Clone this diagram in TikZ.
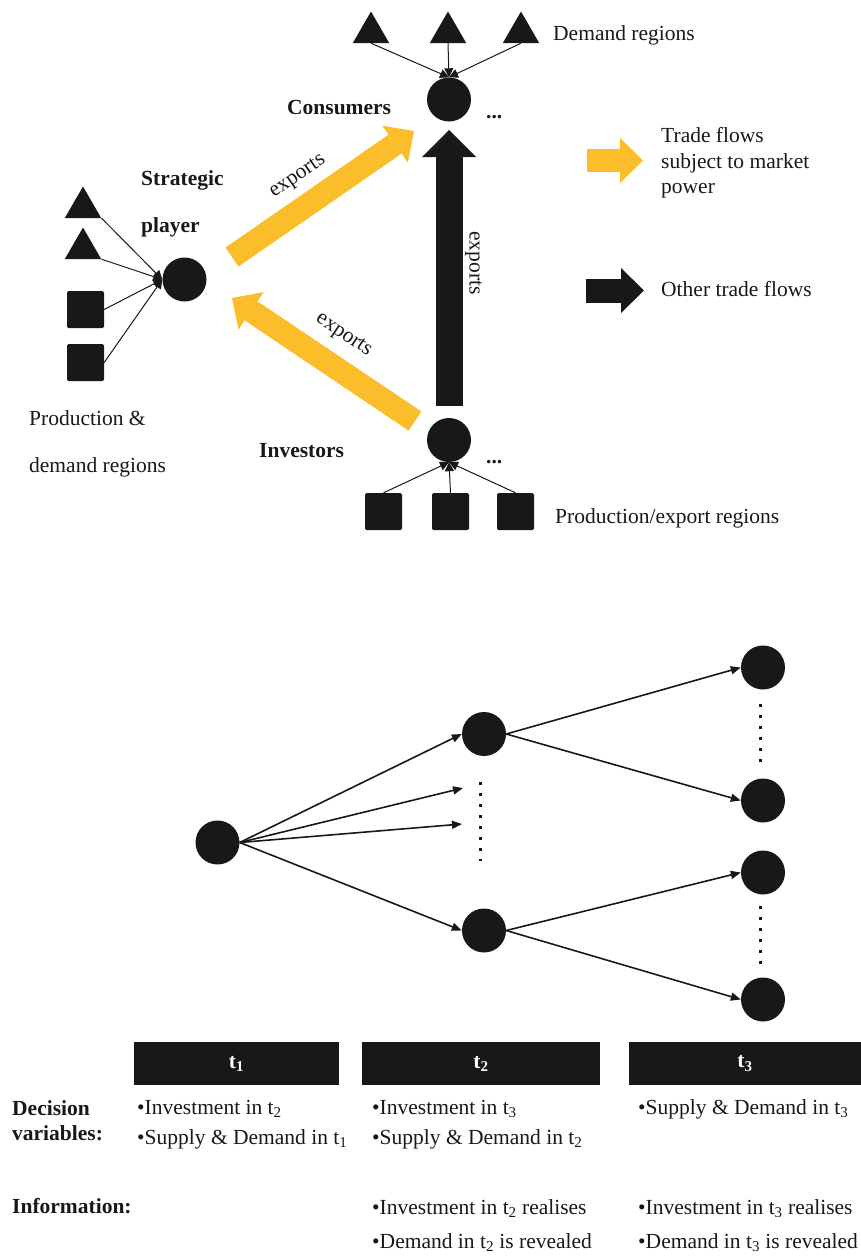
\documentclass[tikz,border=0pt]{standalone}
\usepackage{fontspec}
\setmainfont{Liberation Serif}
\usetikzlibrary{arrows.meta,shapes.geometric}
\definecolor{ink}{RGB}{23,25,23}
\definecolor{mpyellow}{RGB}{251,190,42}

\begin{document}
\begin{tikzpicture}[
    x=1pt, y=-1pt,
    font=\fontsize{21.5}{26}\selectfont,
    text=ink,
    market/.style={
        circle,
        fill=ink,
        minimum size=44pt,
        inner sep=0pt
    },
    demreg/.style={regular polygon, regular polygon sides=3, fill=ink, minimum size=42pt, inner sep=0pt},
    prodreg/.style={rectangle, fill=ink, rounded corners=1.5pt, minimum size=37pt, inner sep=0pt},
    feed/.style={draw=ink, line width=1pt, -{Triangle[length=9pt,width=9pt]}},
    fatflow/.style={line width=23pt, -{Triangle[length=23pt,width=45pt,line width=0pt]}},
    flowlab/.style={inner sep=0pt, text=ink},
    branch/.style={draw=ink, line width=1.6pt, -{Triangle[length=10pt,width=8pt]}},
    gap/.style={draw=ink, line width=3pt, dash pattern=on 3pt off 8pt},
    phase/.style={fill=ink, text=white, font=\fontsize{21.5}{26}\selectfont\bfseries, minimum height=43pt, inner sep=0pt},
    txt/.style={anchor=base west, inner sep=0pt},
    bold/.style={font=\fontsize{21.5}{26}\selectfont\bfseries}
]
\useasboundingbox (0,0) rectangle (861,1256);

% Market structure
\node[market] (cons) at (449,99.5) {};
\node[market] (inv) at (449,440) {};
\node[market] (strat) at (184.5,279.5) {};

\foreach \n/\x in {d1/371, d2/448, d3/521}{
    \node[demreg] (\n) at (\x,32.5) {};
    \draw[feed] (\n.side 2) -- (cons.north);
}
\foreach \n/\x in {b1/383.5, b2/450.5, b3/515.5}{
    \node[prodreg] (\n) at (\x,511.5) {};
    \draw[feed] (\n.north) -- (inv.south);
}
\node[demreg] (l1) at (83,207.5) {};
\node[demreg] (l2) at (83,248.5) {};
\node[prodreg] (s1) at (85.5,309.5) {};
\node[prodreg] (s2) at (85.5,362.5) {};
\draw[feed] (l1.corner 3) -- (strat.west);
\draw[feed] (l2.corner 3) -- (strat.west);
\draw[feed] (s1.east) -- (strat.west);
\draw[feed] (s2.east) -- (strat.west);

\draw[fatflow, mpyellow, shorten <=57.8pt, shorten >=42.6pt]
    ([yshift=-10.4pt]strat.center) -- node[flowlab, pos=0.49, sloped, above=8.5pt] (exp1) {exports}
    ([yshift=-7.3pt]cons.center);
\draw[fatflow, mpyellow, shorten <=41pt, shorten >=57.2pt]
    ([yshift=-3.9pt]inv.center) -- node[flowlab, pos=0.465, sloped, above=11.5pt] (exp2) {exports}
    ([yshift=13.4pt]strat.center);
\draw[fatflow, ink, line width=27pt, -{Triangle[length=27pt,width=54pt,line width=0pt]},
    shorten <=34.5pt, shorten >=30.5pt]
    (inv.center) -- node[flowlab, pos=0.52, xshift=24.5pt, rotate=-90] (exp3) {exports}
    (cons.center);

\node[txt] (demlab) at (553,40) {Demand regions};
\node[txt, bold] (conslab) at (287,114) {Consumers};
\node[txt] (consdots) at (486,118) {\textbf{...}};
\node[txt, bold] (invlab) at (259,457) {Investors};
\node[txt] (invdots) at (486,463) {\textbf{...}};
\node[txt] (prodlab) at (555,523) {Production/export regions};
\node[anchor=north west, inner sep=0pt, align=left, font=\fontsize{21.5}{47}\selectfont\bfseries]
    (stratlab) at (141,170.4) {Strategic\\player};
\node[anchor=north west, inner sep=0pt, align=left, font=\fontsize{21.5}{47}\selectfont]
    (pdlab) at (29,410.3) {Production \&\\demand regions};

% Legend
\coordinate (ly0) at (587,160.5);
\coordinate (ly1) at (643,160.5);
\coordinate (lk0) at (586,290.5);
\coordinate (lk1) at (644,290.5);
\draw[fatflow, mpyellow] (ly0) -- (ly1);
\draw[fatflow, ink, line width=24pt] (lk0) -- (lk1);
\node[anchor=north west, inner sep=0pt, align=left, font=\fontsize{21.5}{25.7}\selectfont]
    (legylab) at (661,127) {Trade flows\\subject to market\\power};
\node[txt] (legklab) at (661,296) {Other trade flows};

% Scenario tree
\node[market] (root) at (217.5,842.5) {};
\node[market] (m1) at (484,734) {};
\node[market] (m2) at (484,930.5) {};
\node[market] (r1) at (763,667.5) {};
\node[market] (r2) at (763,800.5) {};
\node[market] (r3) at (763,872.5) {};
\node[market] (r4) at (763,999.5) {};
\coordinate (e1) at (463,788);
\coordinate (e2) at (462,824);

\draw[branch] (root.east) -- (m1.west);
\draw[branch] (root.east) -- (e1);
\draw[branch] (root.east) -- (e2);
\draw[branch] (root.east) -- (m2.west);
\draw[branch] (m1.east) -- (r1.west);
\draw[branch] (m1.east) -- (r2.west);
\draw[branch] (m2.east) -- (r3.west);
\draw[branch] (m2.east) -- (r4.west);

\draw[gap, shorten <=26pt, shorten >=47pt] ([xshift=-4pt]m1.south) -- ([xshift=-4pt]m2.north);
\draw[gap, shorten <=14pt, shorten >=15pt] ([xshift=-3pt]r1.south) -- ([xshift=-3pt]r2.north);
\draw[gap, shorten <=11pt, shorten >=13pt] ([xshift=-3pt]r3.south) -- ([xshift=-3pt]r4.north);

% Stages
\node[phase, minimum width=205pt] (t1) at (236.5,1063.5) {t\textsubscript{1}};
\node[phase, minimum width=238pt] (t2) at (481,1063.5) {t\textsubscript{2}};
\node[phase, minimum width=232pt] (t3) at (745,1063.5) {t\textsubscript{3}};

\node[anchor=north west, inner sep=0pt, align=left, font=\fontsize{21.5}{25}\selectfont\bfseries]
    (declab) at (12,1100.5) {Decision\\variables:};
\node[txt, bold] (infolab) at (12,1213) {Information:};

\foreach \x/\y/\entry in {
    137/1114/Investment in t\textsubscript{2},
    137/1144/Supply \& Demand in t\textsubscript{1},
    372/1114/Investment in t\textsubscript{3},
    372/1144/Supply \& Demand in t\textsubscript{2},
    372/1214/Investment in t\textsubscript{2} realises,
    372/1248/Demand in t\textsubscript{2} is revealed,
    638/1114/Supply \& Demand in t\textsubscript{3},
    638/1214/Investment in t\textsubscript{3} realises,
    638/1248/Demand in t\textsubscript{3} is revealed
}{
    \node[txt] (item-\x-\y) at (\x,\y) {•\entry};
}
\end{tikzpicture}
\end{document}
